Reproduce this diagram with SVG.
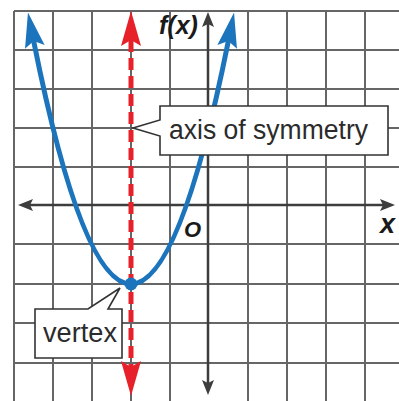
<svg xmlns="http://www.w3.org/2000/svg" width="399" height="401" viewBox="0 0 399 401">
<style>
.grid line{stroke:#666;stroke-width:2}
.axis{stroke:#3d3d3d;stroke-width:2.5;fill:none}
.sym{stroke:#e62129;stroke-width:5;stroke-dasharray:12 6;fill:none}
.curve{stroke:#1c75bc;stroke-width:5;fill:none}
.callout{fill:#fff;stroke:#333;stroke-width:1.6;stroke-linejoin:miter}
.lbl{font-family:"Liberation Sans",Arial,sans-serif;font-size:27px;fill:#2b2b2b}
.math{font-family:"Liberation Sans",Arial,sans-serif;font-weight:bold;font-style:italic;fill:#1a1a1a}
</style>
<defs>
<marker id="ahBlue" viewBox="0 0 35 20" refX="6" refY="10" markerWidth="35" markerHeight="20" markerUnits="userSpaceOnUse" orient="auto-start-reverse" overflow="visible"><path d="M0,0 L35,10 L0,20 L6,10 Z" fill="#1c75bc"/></marker>
<marker id="ahRed" viewBox="0 0 35 20" refX="6" refY="10" markerWidth="35" markerHeight="20" markerUnits="userSpaceOnUse" orient="auto-start-reverse" overflow="visible"><path d="M0,0 L35,10 L0,20 L6,10 Z" fill="#e62129"/></marker>
<marker id="ahAxis" viewBox="0 0 15 12" refX="3" refY="6" markerWidth="15" markerHeight="12" markerUnits="userSpaceOnUse" orient="auto-start-reverse" overflow="visible"><path d="M0,0 L15,6 L0,12 L3,6 Z" fill="#3d3d3d"/></marker>
</defs>
<rect width="399" height="401" fill="#fff"/>
<g id="grid" class="grid">
<line x1="14" y1="11" x2="14" y2="401"/>
<line x1="53" y1="11" x2="53" y2="401"/>
<line x1="92" y1="11" x2="92" y2="401"/>
<line x1="131" y1="11" x2="131" y2="401"/>
<line x1="170" y1="11" x2="170" y2="401"/>
<line x1="248" y1="11" x2="248" y2="401"/>
<line x1="287" y1="11" x2="287" y2="401"/>
<line x1="326" y1="11" x2="326" y2="401"/>
<line x1="365" y1="11" x2="365" y2="401"/>
<line x1="14" y1="11" x2="399" y2="11"/>
<line x1="14" y1="50" x2="399" y2="50"/>
<line x1="14" y1="89" x2="399" y2="89"/>
<line x1="14" y1="128" x2="399" y2="128"/>
<line x1="14" y1="167" x2="399" y2="167"/>
<line x1="14" y1="244" x2="399" y2="244"/>
<line x1="14" y1="284" x2="399" y2="284"/>
<line x1="14" y1="323" x2="399" y2="323"/>
<line x1="14" y1="363" x2="399" y2="363"/>
</g>
<g id="connectors">
<line id="x-axis" class="axis" x1="30" y1="205" x2="383" y2="205" marker-start="url(#ahAxis)" marker-end="url(#ahAxis)"/>
<line id="y-axis" class="axis" x1="208" y1="24" x2="208" y2="383" marker-start="url(#ahAxis)" marker-end="url(#ahAxis)"/>
<line id="axis-of-symmetry" class="sym" x1="131" y1="40" x2="131" y2="367" marker-start="url(#ahRed)" marker-end="url(#ahRed)"/>
<path id="parabola" class="curve" d="M33.65,41 Q131,527 228.35,41" marker-start="url(#ahBlue)" marker-end="url(#ahBlue)"/>
</g>
<g id="vertex-point"><circle cx="131" cy="284" r="6.5" fill="#1c75bc"/></g>
<g id="label-axis">
<path class="callout" d="M160,106 H388 V155 H160 V136 L133,128 L160,120 Z"/>
<text class="lbl" x="169" y="139" textLength="199" lengthAdjust="spacingAndGlyphs">axis of symmetry</text>
</g>
<g id="label-vertex">
<path class="callout" d="M35,309 H88 L120,288 L108,309 H122 V358 H35 Z"/>
<text class="lbl" x="43" y="342" textLength="74" lengthAdjust="spacingAndGlyphs">vertex</text>
</g>
<g id="axis-labels">
<text class="math" x="159" y="34" font-size="25">f(x)</text>
<text class="math" x="184" y="237" font-size="22">O</text>
<text class="math" x="380" y="233" font-size="27">x</text>
</g>
</svg>
